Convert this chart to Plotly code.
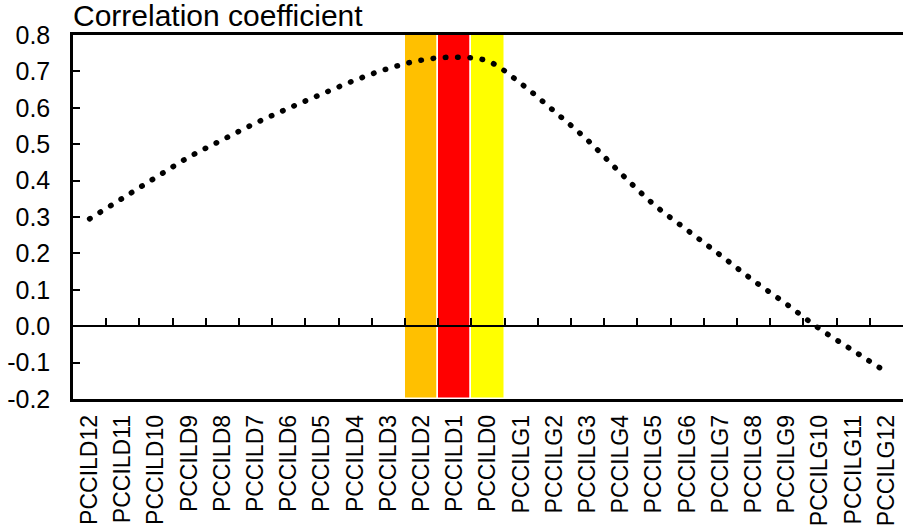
import plotly.graph_objects as go

categories = ["PCCILD12", "PCCILD11", "PCCILD10", "PCCILD9", "PCCILD8", "PCCILD7",
              "PCCILD6", "PCCILD5", "PCCILD4", "PCCILD3", "PCCILD2", "PCCILD1",
              "PCCILD0", "PCCILG1", "PCCILG2", "PCCILG3", "PCCILG4", "PCCILG5",
              "PCCILG6", "PCCILG7", "PCCILG8", "PCCILG9", "PCCILG10", "PCCILG11",
              "PCCILG12"]
corr = [0.295, 0.352, 0.409, 0.465, 0.512, 0.558, 0.599, 0.638, 0.676, 0.708,
        0.731, 0.739, 0.728, 0.666, 0.590, 0.511, 0.420, 0.334, 0.264, 0.195,
        0.125, 0.060, -0.008, -0.067, -0.126]

band_cats = ["PCCILD2", "PCCILD1", "PCCILD0"]
band_colors = ["#FFC000", "#FF0000", "#FFFF00"]
band_low = -0.2
band_high = 0.8

y_ticks = [-0.2, -0.1, 0.0, 0.1, 0.2, 0.3, 0.4, 0.5, 0.6, 0.7, 0.8]
y_ticktext = ["-0.2", "-0.1", "0.0", "0.1", "0.2", "0.3", "0.4", "0.5", "0.6", "0.7", "0.8"]

FONT = "Liberation Sans, Arial, sans-serif"

fig = go.Figure()
fig.add_trace(go.Bar(
    x=band_cats,
    y=[band_high - band_low] * len(band_cats),
    base=[band_low] * len(band_cats),
    width=1.0,
    marker=dict(color=band_colors, line=dict(color="white", width=1.5)),
    hoverinfo="skip",
    showlegend=False,
))
fig.add_trace(go.Scatter(
    x=categories, y=corr, mode="lines", xaxis="x2",
    line=dict(color="black", width=5.5, dash="0.5px,11.8px", shape="spline", smoothing=1.0),
    showlegend=False,
))

n = len(categories)
fig.update_layout(
    width=903, height=531,
    margin=dict(l=73, r=0, t=35, b=132, autoexpand=False),
    plot_bgcolor="white", paper_bgcolor="white",
    font=dict(family=FONT, color="black", size=24),
    bargap=0,
    xaxis=dict(
        type="category", categoryorder="array", categoryarray=categories,
        range=[-0.5, n - 0.5], automargin=False,
        tickangle=-90, ticks="", showgrid=False, zeroline=False,
        showline=True, mirror=True, linecolor="black", linewidth=2.5,
        layer="below traces", ticklabelstandoff=4,
        tickfont=dict(family=FONT, size=23, color="black"),
    ),
    xaxis2=dict(
        type="category", categoryorder="array", categoryarray=categories,
        overlaying="x", anchor="free", position=0.2, side="bottom",
        range=[-0.5, n - 0.5], automargin=False,
        tickson="boundaries", ticks="inside", ticklen=7,
        tickwidth=2, tickcolor="black",
        showticklabels=False, showgrid=False, zeroline=False,
        showline=True, linecolor="black", linewidth=2, layer="above traces",
    ),
    yaxis=dict(
        range=[-0.2, 0.8], tickmode="array", tickvals=y_ticks, ticktext=y_ticktext,
        ticks="inside", ticklen=7, tickwidth=2, tickcolor="black",
        showgrid=False, zeroline=False, automargin=False,
        showline=True, linecolor="black", linewidth=2.5, ticklabelstandoff=15,
        tickfont=dict(family=FONT, size=25, color="black"),
    ),
    annotations=[dict(
        text="Correlation coefficient", xref="paper", yref="paper",
        x=0, y=1 + 35 / 364, xanchor="left", yanchor="top", xshift=-2, yshift=3,
        showarrow=False, font=dict(family=FONT, size=30, color="black"),
    )],
)

post = """
document.body.style.margin='0';
document.body.style.padding='0';
var s=document.createElement('style');
s.innerHTML='html,body{margin:0 !important;padding:0 !important;overflow:hidden;} .scatterlayer .js-line{stroke-linecap:round !important;}';
document.head.appendChild(s);
"""
fig.write_html("out.html", post_script=post, config={"displayModeBar": False})
